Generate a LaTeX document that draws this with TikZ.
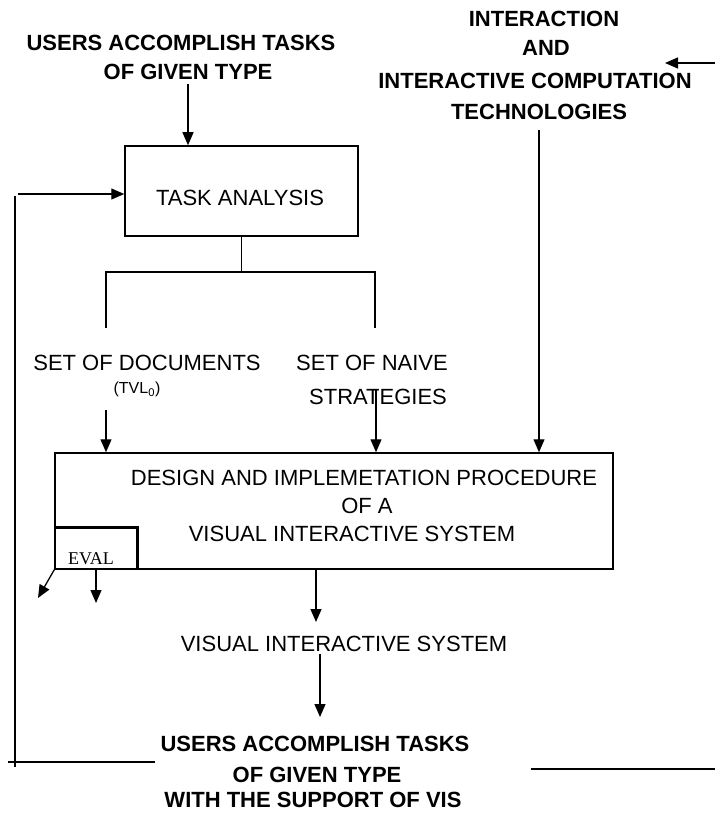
\documentclass[tikz,border=0pt]{standalone}
\usepackage{fontspec}
\setmainfont{Liberation Sans}
\newfontfamily\evalfont{Liberation Serif}
\usetikzlibrary{arrows.meta}
\begin{document}
\begin{tikzpicture}[x=1pt,y=-1pt,
  line width=1.3pt,
  arr/.style={-{Triangle[length=13pt,width=11pt]}},
  lbl/.style={font=\fontsize{22}{26}\selectfont, inner sep=0pt, anchor=base},
  ttl/.style={lbl, font=\fontsize{22}{26}\selectfont\bfseries},
  sml/.style={lbl, font=\fontsize{16}{19}\selectfont},
  boxnode/.style={draw, line width=1.5pt, inner sep=0pt},
  thickedge/.style={line width=3pt}
]
\useasboundingbox (0,0) rectangle (715,813);

% --- texts -------------------------------------------------------------
\node[ttl] (usersA) at (181,51) {USERS ACCOMPLISH TASKS};
\node[ttl] (usersB) at (188,80) {OF GIVEN TYPE};

\node[ttl] (interA) at (544,27) {INTERACTION};
\node[ttl] (interB) at (546,56) {AND};
\node[ttl] (interC) at (535,89) {INTERACTIVE COMPUTATION};
\node[ttl] (interD) at (539,120) {TECHNOLOGIES};

\node[lbl] (docs) at (147,370) {SET OF DOCUMENTS};
\node[sml] (tvl) at (137,393.5) {(TVL\textsubscript{0})};
\node[lbl] (naiveA) at (372,370) {SET OF NAIVE};
\node[lbl] (naiveB) at (378,404) {STRATEGIES};

\node[lbl] (visout) at (344,651) {VISUAL INTERACTIVE SYSTEM};

\node[ttl] (finA) at (315,751) {USERS ACCOMPLISH TASKS};
\node[ttl] (finB) at (317,782) {OF GIVEN TYPE};
\node[ttl] (finC) at (313,807) {WITH THE SUPPORT OF VIS};

% --- boxes -------------------------------------------------------------
\node[boxnode, minimum width=233pt, minimum height=90pt] (task) at (241.5,191) {};
\node[lbl] (taskTxt) at (240,205) {TASK ANALYSIS};

\node[boxnode, minimum width=558pt, minimum height=116pt] (design) at (334,511) {};
\node[lbl] (designA) at (364,485) {DESIGN AND IMPLEMETATION PROCEDURE};
\node[lbl] (designB) at (367,513) {OF A};
\node[lbl] (designC) at (352,541) {VISUAL INTERACTIVE SYSTEM};

\node[inner sep=0pt, minimum width=82pt, minimum height=41pt] (eval) at (96,548.5) {};
\draw[thickedge] (eval.north west) -| (eval.south east);
\node[lbl, font=\evalfont\fontsize{18}{21}\selectfont] (evalTxt) at (91,564) {EVAL};

% --- anchor points of the connectors ----------------------------------
\coordinate (usersOut) at (188,84);
\coordinate (fbStart) at (18,194);
\coordinate (fbTop) at (15,196);
\coordinate (fbBot) at (15,767);
\coordinate (fbL) at (8,762);
\coordinate (fbR) at (155,762);
\coordinate (baseL) at (531,769);
\coordinate (baseR) at (715,769);
\coordinate (sideIn) at (715,63);
\coordinate (sideTip) at (665,63);
\coordinate (techOut) at (539,130);
\coordinate (brL) at (106,272);
\coordinate (brR) at (375,272);
\coordinate (brLd) at (106,328);
\coordinate (brRd) at (375,328);
\coordinate (docsOut) at (106,410);
\coordinate (naiveOut) at (376,390);
\coordinate (evalDiag) at (38,598);
\coordinate (evalDown) at (96,603);
\coordinate (designOut) at (316,569);
\coordinate (visIn) at (316,622);
\coordinate (visOut) at (320,654);
\coordinate (finIn) at (320,717);

% --- connectors --------------------------------------------------------
\draw[arr] (usersOut) -- (usersOut |- task.north);
\draw[arr] (fbStart) -- (fbStart -| task.west);
\draw (fbTop) -- (fbBot);
\draw (fbL) -- (fbR);
\draw (baseL) -- (baseR);
\draw[arr] (sideIn) -- (sideTip);
\draw[arr] (techOut) -- (techOut |- design.north);

\draw (task.south) -- (task.south |- brL);
\draw (brLd) -- (brL) -- (brR) -- (brRd);

\draw[arr] (docsOut) -- (docsOut |- design.north);
\draw[arr] (naiveOut) -- (naiveOut |- design.north);

\draw[arr] (eval.south west) -- (evalDiag);
\draw[arr] (eval.south) -- (evalDown);

\draw[arr] (designOut) -- (visIn);
\draw[arr] (visOut) -- (finIn);
\end{tikzpicture}
\end{document}
